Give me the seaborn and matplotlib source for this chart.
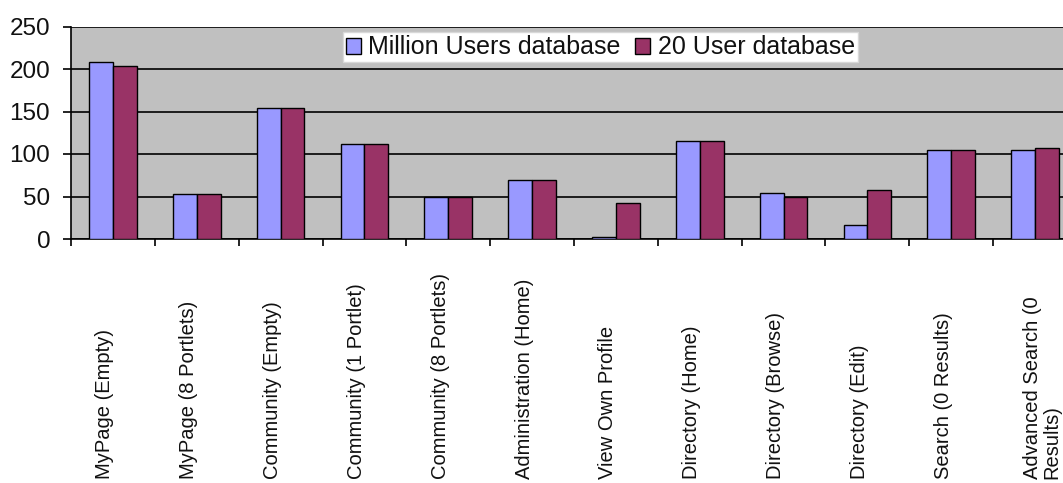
import matplotlib
matplotlib.use("Agg")
import matplotlib.pyplot as plt
from matplotlib.ticker import FixedLocator, NullFormatter
from matplotlib.transforms import ScaledTranslation
import pandas as pd
import seaborn as sns

# Page load times per screen for the two databases
screens = [
    "MyPage (Empty)", "MyPage (8 Portlets)", "Community (Empty)",
    "Community (1 Portlet)", "Community (8 Portlets)", "Administration (Home)",
    "View Own Profile", "Directory (Home)", "Directory (Browse)",
    "Directory (Edit)", "Search (0 Results)", "Advanced Search (0\nResults)",
]
million_users = [208, 53, 154, 112, 49, 70, 2, 115, 54, 16, 105, 105]
twenty_users = [204, 53, 154, 112, 49, 70, 42, 115, 49, 58, 105, 107]
series_names = ["Million Users database", "20 User database"]
y_ticks = [0, 50, 100, 150, 200, 250]

df = pd.DataFrame({
    "screen": screens * 2,
    "time": million_users + twenty_users,
    "db": [series_names[0]] * len(screens) + [series_names[1]] * len(screens),
})

sns.set_theme(style="white")
plt.rcParams["font.family"] = ["Liberation Sans", "DejaVu Sans"]

W, H = 1063, 483
fig = plt.figure(figsize=(W / 100, H / 100), dpi=100)
ax = fig.add_axes([71 / W, (H - 239) / H, (1077 - 71) / W, (239 - 26.5) / H])
ax.set_facecolor("#C0C0C0")

sns.barplot(
    data=df, x="screen", y="time", hue="db", order=screens,
    hue_order=series_names, palette=["#9999FF", "#993366"],
    width=0.57, gap=0, edgecolor="black", linewidth=1.0,
    saturation=1, ax=ax, zorder=3,
)

ax.set_xlim(-0.5, len(screens) - 0.5)
ax.set_ylim(0, 250)
ax.set_yticks(y_ticks)
ax.set_yticklabels([str(v) for v in y_ticks], fontsize=17.5)
ax.yaxis.grid(True, color="black", linewidth=1.2, zorder=1)
ax.set_axisbelow(True)
ax.set_xlabel("")
ax.set_ylabel("")

for side in ["top", "right"]:
    ax.spines[side].set_visible(False)
ax.spines["left"].set_color("black")
ax.spines["left"].set_linewidth(1.2)
ax.spines["bottom"].set_color("black")
ax.spines["bottom"].set_linewidth(1.2)

ax.tick_params(axis="y", which="major", length=6, width=1.2, color="black",
               direction="out", left=True, pad=9, labelcolor="#111111")
ax.tick_params(axis="x", which="major", length=0, pad=173)
ax.xaxis.set_minor_locator(FixedLocator([i - 0.5 for i in range(len(screens) + 1)]))
ax.xaxis.set_minor_formatter(NullFormatter())
ax.tick_params(axis="x", which="minor", length=5, width=1.2, color="black",
               direction="out", bottom=True)

labels = ax.get_xticklabels()
for lab in labels:
    lab.set_rotation(90)
    lab.set_verticalalignment("bottom")
    lab.set_horizontalalignment("center")
    lab.set_multialignment("left")
    lab.set_fontsize(14.5)
    lab.set_linespacing(1.0)
    lab.set_color("#111111")
    dx = 7 if "\n" in lab.get_text() else -8
    lab.set_transform(lab.get_transform() + ScaledTranslation(dx / 100, 0, fig.dpi_scale_trans))

leg = ax.legend(
    loc="upper left", bbox_to_anchor=(0.270, 0.972), ncol=2,
    frameon=True, fancybox=False, framealpha=1, facecolor="white",
    edgecolor="#D8D8D8", fontsize=18, handlelength=0.6, handleheight=0.6,
    handletextpad=0.3, columnspacing=0.6, borderpad=0.12, borderaxespad=0,
    title=None,
)
for h in leg.legend_handles:
    h.set_edgecolor("black")
    h.set_linewidth(1.0)
for t in leg.get_texts():
    t.set_color("#111111")

fig.savefig("out.png", dpi=100)
